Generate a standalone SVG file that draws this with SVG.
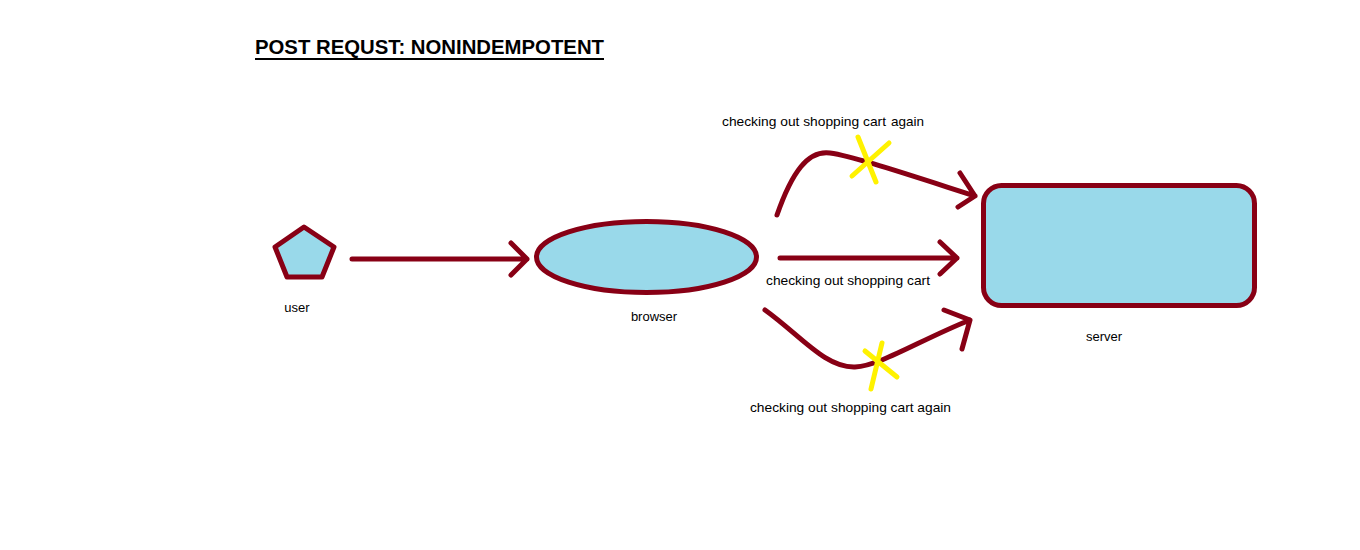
<svg xmlns="http://www.w3.org/2000/svg" width="1360" height="550" viewBox="0 0 1360 550">
<style>
.shape{fill:#99d9ea;stroke:#880015;stroke-width:5;stroke-linejoin:round}
.conn{fill:none;stroke:#880015;stroke-width:5;stroke-linecap:round;stroke-linejoin:round}
.x{fill:none;stroke:#fff200;stroke-width:5;stroke-linecap:round}
.lbl{font-family:"Liberation Sans",Arial,sans-serif;font-size:13px;fill:#000}
.title{font-family:"Liberation Sans",Arial,sans-serif;font-size:20px;font-weight:bold;fill:#000}
</style>
<rect width="1360" height="550" fill="#fff"/>
<g id="title">
<text class="title" x="255" y="54" textLength="349" lengthAdjust="spacingAndGlyphs">POST REQUST: NONINDEMPOTENT</text>
<line x1="255" y1="59" x2="604" y2="59" stroke="#000" stroke-width="2"/>
</g>
<g id="user">
<polygon class="shape" points="304,227 334,247 322,277 287,277 275,247"/>
<text class="lbl" x="297" y="312" text-anchor="middle">user</text>
</g>
<g id="browser">
<ellipse class="shape" cx="646.5" cy="257" rx="110" ry="35.5"/>
<text class="lbl" x="654" y="321" text-anchor="middle">browser</text>
</g>
<g id="server">
<rect class="shape" x="983.5" y="185.5" width="271" height="120" rx="18"/>
<text class="lbl" x="1104" y="341" text-anchor="middle">server</text>
</g>
<g id="connectors">
<path class="conn" d="M352,259 H527 M511,243 L527,259 L511,275"/>
<path class="conn" d="M780,258 H957 M940,242 L957,258 L940,274"/>
<path class="conn" d="M777,215 C792,172 808,150 830,153 C852,156 900,172 975,196 M960,173 L975,196 L958,207"/>
<path class="conn" d="M765,310 C800,335 825,368 855,367 C880,366 920,340 970,320 M944,310 L970,320 L962,349"/>
<path class="x" d="M858,137 L876,182 M889,143 L852,176"/>
<path class="x" d="M882,343 L871,389 M865,351 L897,377"/>
<text class="lbl" x="722" y="126" textLength="164" lengthAdjust="spacingAndGlyphs">checking out shopping cart</text>
<text class="lbl" x="891" y="126" textLength="33" lengthAdjust="spacingAndGlyphs">again</text>
<text class="lbl" x="766" y="285" textLength="164" lengthAdjust="spacingAndGlyphs">checking out shopping cart</text>
<text class="lbl" x="750" y="412" textLength="201" lengthAdjust="spacingAndGlyphs">checking out shopping cart again</text>
</g>
</svg>
